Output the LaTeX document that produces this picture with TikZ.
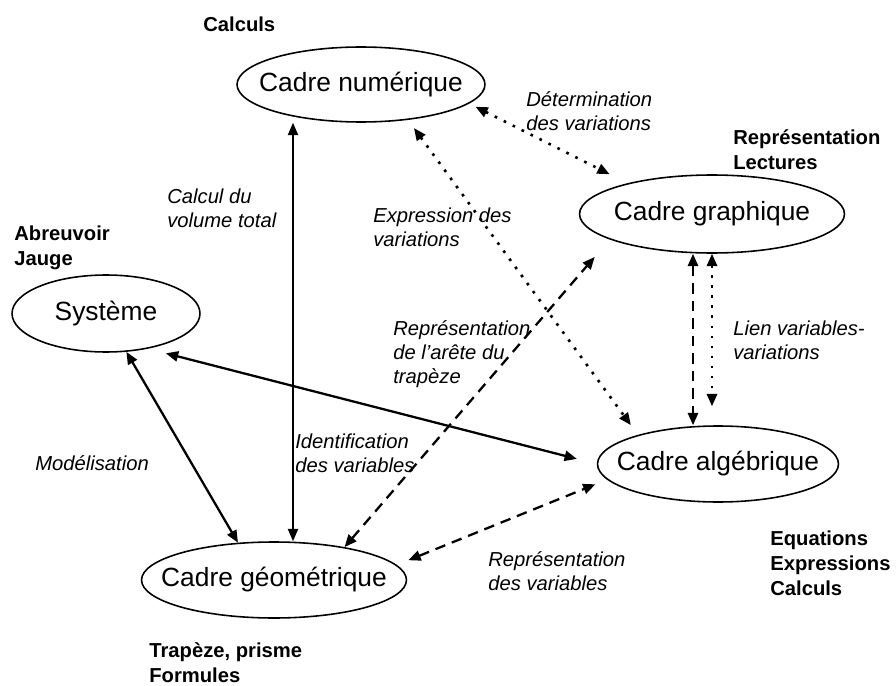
\documentclass[tikz,border=0pt]{standalone}
\usepackage{fontspec}
\setmainfont{Liberation Sans}
\usetikzlibrary{shapes.geometric,arrows.meta}

\begin{document}
\begin{tikzpicture}[x=0.02cm,y=-0.02cm,
    cadre/.style={ellipse,draw,line width=0.9pt,inner xsep=-1cm,inner ysep=0pt,
      font=\fontsize{15}{18}\selectfont},
    obj/.style={anchor=west,inner sep=0pt,align=left,
      font=\fontsize{11.5}{14.2}\selectfont\bfseries},
    lab/.style={anchor=west,inner sep=0pt,align=left,
      font=\fontsize{11.5}{13.6}\selectfont\itshape},
    fleche/.style={{Triangle[length=7pt,width=5.8pt]}-{Triangle[length=7pt,width=5.8pt]}},
    plein/.style={fleche,line width=1.3pt},
    tirets/.style={fleche,line width=1.3pt,dash pattern=on 6pt off 4pt},
    points/.style={fleche,line width=1.5pt,dash pattern=on 1.5pt off 4.2pt}]
  \useasboundingbox (0,0) rectangle (896,686);

  % les cadres
  \node[cadre,minimum width=4.96cm,minimum height=1.5cm] (num) at (361,84.5) {Cadre numérique};
  \node[cadre,minimum width=5.3cm,minimum height=1.56cm] (graph) at (712,214) {Cadre graphique};
  \node[cadre,minimum width=3.76cm,minimum height=1.54cm] (sys) at (106,313.5) {Système};
  \node[cadre,minimum width=4.82cm,minimum height=1.52cm] (alg) at (718,464) {Cadre algébrique};
  \node[cadre,minimum width=5.3cm,minimum height=1.52cm] (geo) at (274,580) {Cadre géométrique};

  % objets de chaque cadre
  \node[obj] (ocalc) at (203,24) {Calculs};
  \node[obj] (orep) at (733,149.5) {Représentation\\Lectures};
  \node[obj] (oabr) at (14,247.5) {Abreuvoir\\Jauge};
  \node[obj] (oequ) at (770,563) {Equations\\Expressions\\Calculs};
  \node[obj] (otrap) at (149,663) {Trapèze, prisme\\Formules};

  % liens
  \node[lab] (ldet) at (526,111.5) {Détermination\\des variations};
  \node[lab] (lvol) at (167,208.5) {Calcul du\\volume total};
  \node[lab] (lexp) at (373,227.5) {Expression des\\variations};
  \node[lab] (lare) at (393,354) {Représentation\\de l'arête du\\trapèze};
  \node[lab] (llien) at (733,340.5) {Lien variables-\\variations};
  \node[lab] (lmod) at (35,463) {Modélisation};
  \node[lab] (lid) at (295,453) {Identification\\des variables};
  \node[lab] (lrep) at (488,571) {Représentation\\des variables};

  \coordinate (xa) at (293,0);
  \coordinate (xb) at (693,0);
  \coordinate (xc) at (712,0);

  \draw[fleche,line width=0.8pt] (xa |- num.south) -- (xa |- geo.north);
  \draw[plein] (sys.298) -- (geo.134);
  \draw[plein,shorten <=0.37cm,shorten >=0.41cm] (sys.320) -- (alg.180);
  \draw[points,shorten <=0.14cm,shorten >=0.4cm] (num.350) -- (graph.160);
  \draw[points,shorten <=0.2cm,shorten >=0.24cm] (num.323) -- (alg.160);
  \draw[tirets,shorten >=0.46cm] (geo.25) -- (graph.194);
  \draw[tirets,shorten <=0.25cm,shorten >=0.25cm] (geo.7) -- (alg.188);
  \draw[tirets] (xb |- graph.south) -- (xb |- alg.north);
  \draw[points,shorten >=0.38cm] (xc |- graph.south) -- (xc |- alg.north);
\end{tikzpicture}
\end{document}
